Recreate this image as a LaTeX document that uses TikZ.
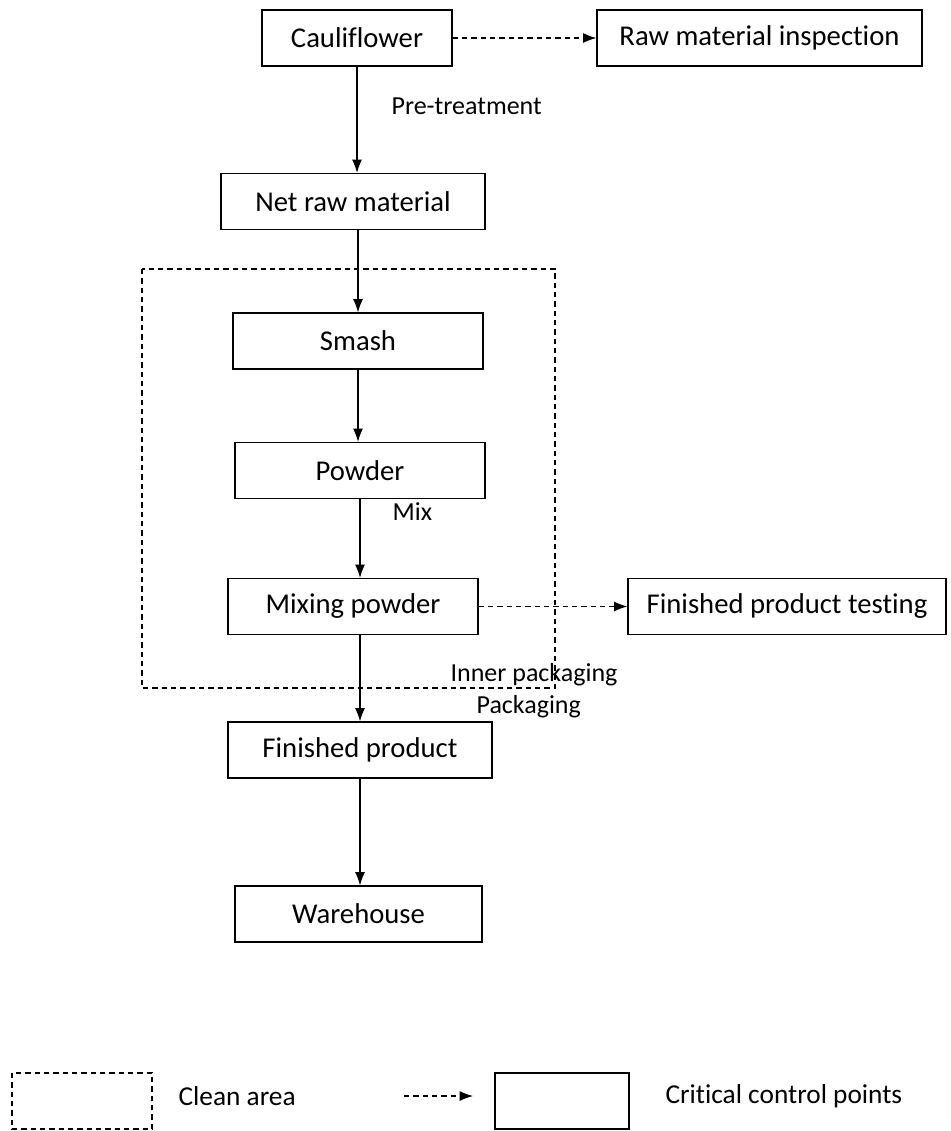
\documentclass[tikz,border=0pt]{standalone}
\usepackage{fontspec}
\setmainfont{Carlito}[Ligatures=NoCommon]
\usetikzlibrary{arrows.meta}
\begin{document}
\begin{tikzpicture}[x=0.75pt,y=-0.75pt,line width=0.9pt,>={Latex[length=10pt,width=7.5pt]},
                    main node/.style={rectangle,draw,minimum height=42pt,inner sep=0pt,font=\fontsize{21.5}{26}\selectfont},
                    step label/.style={anchor=west,inner sep=0pt,font=\fontsize{19.5}{23}\selectfont},
                    check/.style={dash pattern=on 4pt off 3pt}]
  \useasboundingbox (0,0) rectangle (950,1131);
  \node[main node,minimum width=142.5pt] (1) at (357,38) {Cauliflower};
  \node[main node,minimum width=243.75pt] (2) at (759.5,38) {Raw material inspection};
  \node[main node,minimum width=198pt] (3) at (353,201.5) {Net raw material};
  \node[main node,minimum width=187.5pt] (4) at (358,341) {Smash};
  \node[main node,minimum width=187.5pt] (5) at (360,470.5) {Powder};
  \node[main node,minimum width=187.5pt] (6) at (353,606.5) {Mixing powder};
  \node[main node,minimum width=238.5pt] (7) at (787,606.5) {Finished product testing};
  \node[main node,minimum width=198pt] (8) at (360,750) {Finished product};
  \node[main node,minimum width=185.25pt] (9) at (358.5,914) {Warehouse};

  \node[step label] (pre) at (391,106) {Pre-treatment};
  \node[step label] (mix) at (392,512) {Mix};
  \node[step label] (inner) at (450,675) {Inner packaging};
  \node[step label] (pack) at (476,707) {Packaging};

  \draw[check] (142,269) rectangle (555,688);

  \path[->]
    (1) edge (1 |- 3.north)
        edge[check] (2)
    (4 |- 3.south) edge (4)
    (4) edge (4 |- 5.north)
    (5) edge (5 |- 6.north)
    (6) edge[check] (7)
    (8 |- 6.south) edge (8)
    (8) edge (8 |- 9.north);

  \draw[check] (12,1073) rectangle (152,1129);
  \node[step label,font=\fontsize{20.5}{24}\selectfont] (clean) at (178,1096) {Clean area};
  \coordinate (from) at (404,1096);
  \coordinate (to) at (473,1096);
  \draw[->,check] (from) -- (to);
  \draw (495,1073) rectangle (629,1129);
  \node[step label,font=\fontsize{20.5}{24}\selectfont] (ccp) at (665,1096) {Critical control points};

\end{tikzpicture}
\end{document}
